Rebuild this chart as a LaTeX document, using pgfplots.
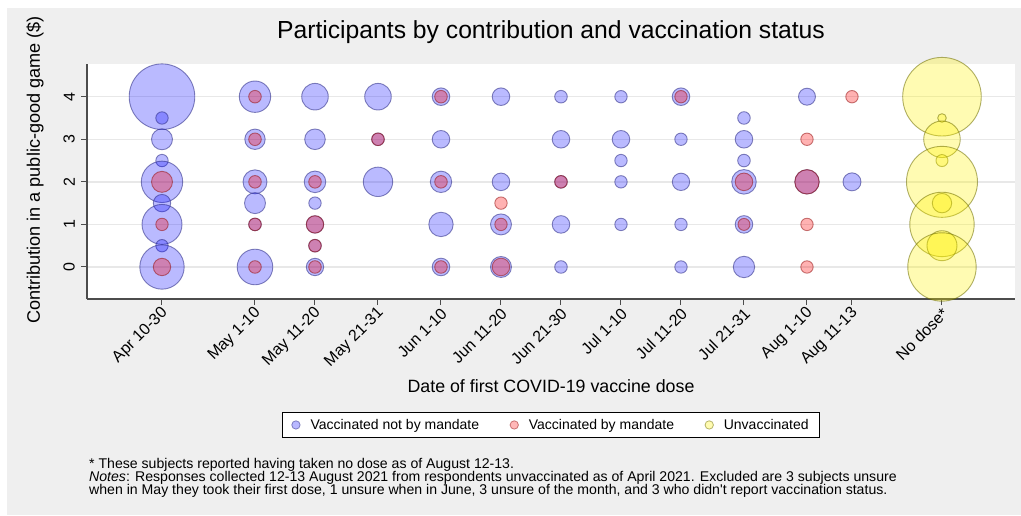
\documentclass[border=0pt]{standalone}
\usepackage{pgfplots}
\pgfplotsset{compat=1.18}
\usepackage{pgfplotstable}
\usepackage{fontspec}
\setmainfont{Liberation Sans}
\definecolor{bggray}{RGB}{239,239,239}
\definecolor{bline}{RGB}{40,40,130}
\definecolor{rline}{RGB}{150,20,20}
\definecolor{yline}{RGB}{110,110,0}

% x = day position (days after 31 March), y = contribution, r = bubble radius (pt)
\pgfplotstableread{
x y r
20 4 32.8
20 3.5 6.2
20 3 10.5
20 2.5 6.2
20 2 20.7
20 1.5 8.7
20 1 20
20 0.5 6.2
20 0 22.2
35.5 4 15.7
35.5 3 10.2
35.5 2 12
35.5 1.5 10.5
35.5 1 6.3
35.5 0 17.8
45.5 4 13.3
45.5 3 10.3
45.5 2 10.8
45.5 1.5 6.2
45.5 1 8.7
45.5 0.5 6.3
45.5 0 8.7
56 4 13.3
56 3 6.3
56 2 14.7
66.5 4 8.8
66.5 3 8.8
66.5 2 10.7
66.5 1 12.2
66.5 0 8.8
76.5 4 8.8
76.5 2 8.8
76.5 1 10.5
76.5 0 10.5
86.5 4 6.3
86.5 3 8.8
86.5 2 6.3
86.5 1 8.8
86.5 0 6.3
96.5 4 6.2
96.5 3 8.8
96.5 2.5 6.2
96.5 2 6.2
96.5 1 6.2
106.5 4 8.8
106.5 3 6.2
106.5 2 8.7
106.5 1 6.2
106.5 0 6.2
117 3.5 6.3
117 3 8.8
117 2.5 6.3
117 2 12.3
117 1 8.8
117 0 10.7
127.5 4 8.5
127.5 2 12.2
135 2 9
}\bluedata

\pgfplotstableread{
x y r
20 2 10.5
20 1 6.2
20 0 8.7
35.5 4 6.3
35.5 3 6.3
35.5 2 6.3
35.5 1 6.3
35.5 0 6.3
45.5 2 6.3
45.5 1 8.7
45.5 0.5 6.3
45.5 0 6.3
56 3 6.3
66.5 4 6.3
66.5 2 6.3
66.5 0 6.3
76.5 1.5 6.2
76.5 1 6.2
76.5 0 8.8
86.5 2 6.3
106.5 4 6.2
117 2 8.8
117 1 6
127.5 3 6.2
127.5 2 12.2
127.5 1 6.2
127.5 0 6.2
135 4 6.2
}\reddata

\pgfplotstableread{
x y r
150 4 39.3
150 3.5 4.3
150 3 18.3
150 2.5 6
150 2 35.5
150 1.5 9.7
150 1 32.2
150 0.5 15
150 0 34.2
}\yellowdata

\pgfplotsset{
  bubble/.style n args={3}{scatter, only marks, mark=*,
    scatter/use mapped color={draw=#1, fill=#2, fill opacity=#3, draw opacity=0.55, line width=0.9pt},
    visualization depends on={\thisrow{r} \as \perpointmarksize},
    scatter/@pre marker code/.append style={/tikz/mark size=\perpointmarksize},
    forget plot},
}

\begin{document}
\begin{tikzpicture}
\path[use as bounding box] (0,0) rectangle (1021pt,515pt);
\fill[white] (0,0) rectangle (1021pt,515pt);
\fill[bggray] (7pt,0) rectangle (1021pt,507pt);
\begin{axis}[
  at={(87pt,216pt)}, anchor=south west,
  scale only axis, width=928pt, height=235pt,
  xmin=7.5, xmax=162.17, ymin=-0.752, ymax=4.768,
  clip=false,
  axis x line=bottom, axis y line=left,
  axis line style={-, draw=black!70, line width=1.2pt},
  tick style={draw=black!70, line width=1pt},
  major tick length=6pt, tick align=outside,
  axis background/.style={fill=white},
  ymajorgrids, grid style={draw=black!9, line width=1.5pt},
  xtick={20,35.5,45.5,56,66.5,76.5,86.5,96.5,106.5,117,127.5,135,150},
  xticklabels={Apr 10-30, May 1-10, May 11-20, May 21-31, Jun 1-10, Jun 11-20, Jun 21-30, Jul 1-10, Jul 11-20, Jul 21-31, Aug 1-10, Aug 11-13, No dose*},
  ytick={0,1,2,3,4},
  /pgf/number format/assume math mode=true,
  xticklabel style={xshift=4pt, yshift=-5pt, rotate=45, anchor=east, font=\fontsize{16}{18}\selectfont, inner sep=1pt},
  yticklabel style={rotate=90, anchor=south, font=\fontsize{16}{18}\selectfont, inner sep=2pt, inner ysep=6pt},
  title={Participants by contribution and vaccination status},
  title style={at={(0.5,1.11)}, anchor=center, font=\fontsize{24.7}{28}\selectfont},
  xlabel={Date of first COVID-19 vaccine dose},
  xlabel style={at={(0.5,-0.37)}, anchor=center, font=\fontsize{17.8}{20}\selectfont},
  ylabel={Contribution in a public-good game (\$)},
  ylabel style={at={(-0.056,0.549)}, anchor=center, font=\fontsize{18.1}{20}\selectfont},
  legend columns=3,
  legend cell align=left,
  legend style={at={(0.5,-0.536)}, anchor=center, draw=black, line width=1pt, fill=white,
    font=\fontsize{14}{16}\selectfont, inner xsep=8.6pt, inner ysep=5pt,
    /tikz/every odd column/.append style={column sep=8pt},
    /tikz/every even column/.append style={column sep=28.5pt}},
]
\addlegendimage{legend image code/.code={\draw[draw=bline, draw opacity=0.5, fill=blue, fill opacity=0.28, line width=0.8pt] (4pt,0pt) circle (4.2pt);}}
\addlegendentry{Vaccinated not by mandate}
\addlegendimage{legend image code/.code={\draw[draw=rline, draw opacity=0.5, fill=red, fill opacity=0.28, line width=0.8pt] (4pt,0pt) circle (4.2pt);}}
\addlegendentry{Vaccinated by mandate}
\addlegendimage{legend image code/.code={\draw[draw=yline, draw opacity=0.5, fill=yellow, fill opacity=0.3, line width=0.8pt] (4pt,0pt) circle (4.2pt);}}
\addlegendentry{Unvaccinated}

\addplot[bubble={bline}{blue}{0.27}] table[x=x, y=y] {\bluedata};
\addplot[bubble={rline}{red}{0.3}] table[x=x, y=y] {\reddata};
\addplot[bubble={yline}{yellow}{0.3}] table[x=x, y=y] {\yellowdata};
\end{axis}
\node[anchor=base west, font=\fontsize{14.1}{13}\selectfont, inner sep=0pt] at (89pt,47pt) {* These subjects reported having taken no dose as of August 12-13.};
\node[anchor=base west, font=\fontsize{14.1}{13}\selectfont, inner sep=0pt] at (89pt,34pt) {\textit{Notes}: Responses collected 12-13 August 2021 from respondents unvaccinated as of April 2021. Excluded are 3 subjects unsure};
\node[anchor=base west, font=\fontsize{14.1}{13}\selectfont, inner sep=0pt] at (89pt,21pt) {when in May they took their first dose, 1 unsure when in June, 3 unsure of the month, and 3 who didn\textquotesingle t report vaccination status.};
\end{tikzpicture}
\end{document}
